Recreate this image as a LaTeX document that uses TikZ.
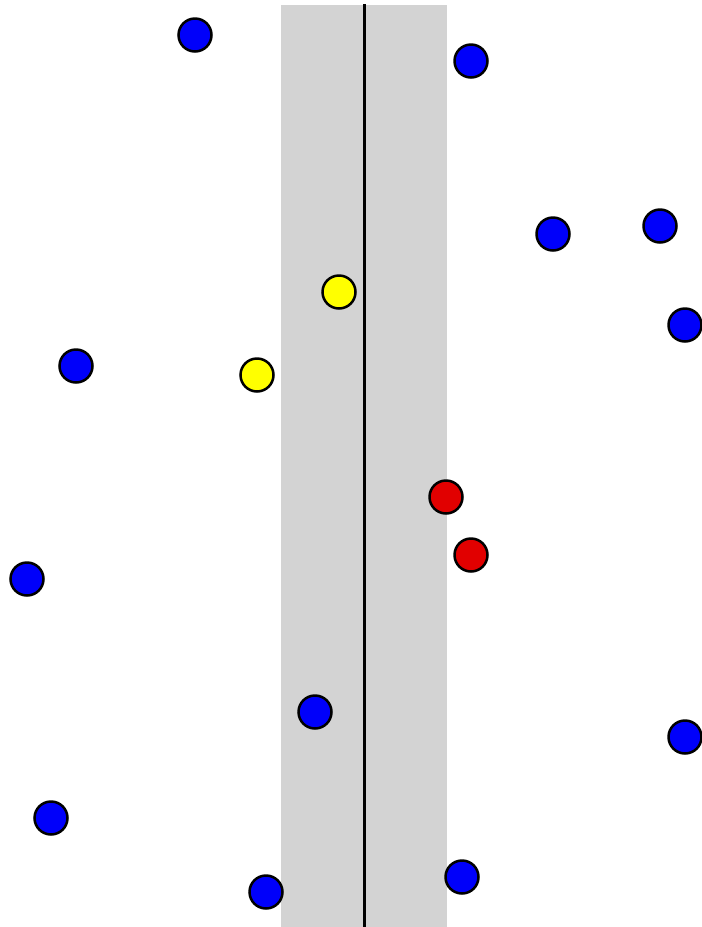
\documentclass[tikz,border=0pt]{standalone}
\usepackage{tikz}

\definecolor{stripgray}{RGB}{211,211,211}
\definecolor{ptblue}{RGB}{0,0,250}
\definecolor{ptred}{RGB}{225,0,0}
\definecolor{ptyellow}{RGB}{255,255,0}

\tikzset{
    pt/.style={circle, draw=black, line width=0.05cm, minimum size=0.66cm, inner sep=0pt},
    ptb/.style={pt, fill=ptblue},
    ptr/.style={pt, fill=ptred},
    pty/.style={pt, fill=ptyellow}
}

\begin{document}
\begin{tikzpicture}[x=0.02cm, y=-0.02cm]
        % --- Cadre ---
        \useasboundingbox (0, 0) rectangle (701, 927);

        % --- Bande autour de la séparatrice ---
        \fill[stripgray] (281, 5) rectangle (447, 927);

        % --- Séparatrice ---
        \coordinate (Ltop) at (364, 4);
        \coordinate (Lbot) at (364, 927);
        \draw[line width=0.06cm] (Ltop) -- (Lbot);

        % --- Points hors de la bande ---
        \node[ptb] (b1)  at (195, 35)  {};
        \node[ptb] (b2)  at (471, 61)  {};
        \node[ptb] (b3)  at (553, 234) {};
        \node[ptb] (b4)  at (660, 226) {};
        \node[ptb] (b5)  at (685, 325) {};
        \node[ptb] (b6)  at (76, 366)  {};
        \node[ptb] (b7)  at (27, 579)  {};
        \node[ptb] (b8)  at (315, 712) {};
        \node[ptb] (b9)  at (685, 737) {};
        \node[ptb] (b10) at (51, 818)  {};
        \node[ptb] (b11) at (266, 892) {};
        \node[ptb] (b12) at (462, 877) {};

        % --- Points dans la bande ---
        \node[pty] (y1) at (339, 292) {};
        \node[pty] (y2) at (257, 375) {};
        \node[ptr] (r1) at (446, 497) {};
        \node[ptr] (r2) at (471, 555) {};
\end{tikzpicture}
\end{document}
